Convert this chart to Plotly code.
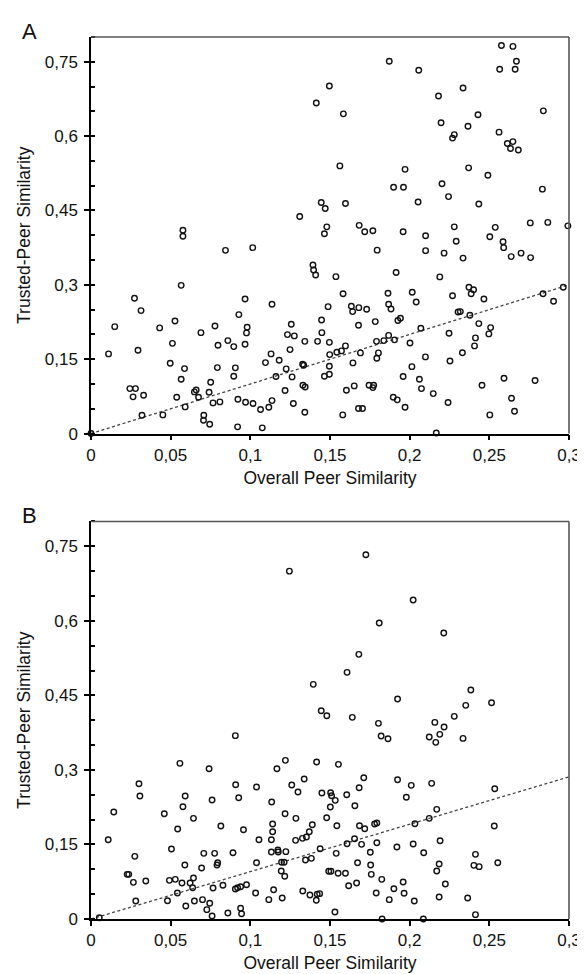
import plotly.graph_objects as go

# Panel A data (Overall Peer Similarity, Trusted-Peer Similarity)
a_x = [0.1496,0.1414,0.1445,0.147,0.131,0.148,0.0577,0.0577,0.1465,
       0.2576,0.2648,0.1872,0.267,0.2057,0.2565,0.2662,0.2335,0.2181,0.1584,0.2839,0.2429,0.2197,0.2366,0.2561,0.228,0.2269,0.2613,0.2648,0.2633,0.2682,0.1562,0.1971,0.237,0.2491,0.1899,0.1961,0.2203,0.2833,0.2244,0.1597,0.2053,0.2434,0.1683,0.228,0.2537,0.2757,0.2867,0.2993,0.1718,0.1769,0.1959,
       0.21,0.2292,0.2503,0.2586,0.259,0.1796,0.21,0.2216,0.2335,0.2637,0.2699,0.2759,0.1537,0.1915,0.2189,0.1582,0.1864,0.2016,0.2269,0.2372,0.2401,0.2386,0.2466,0.2837,0.2964,0.2903,0.1488,0.1634,0.1642,0.1681,0.173,0.1868,0.1883,0.1926,0.1942,0.2041,0.1784,0.1679,0.207,0.2304,0.2318,0.2378,0.2434,0.2508,0.2497,0.2413,0.2407,0.2247,0.2331,0.2253,0.1496,0.1597,0.1572,0.1543,0.1498,0.1496,0.1496,0.1691,0.1644,0.1792,0.1838,0.1868,0.1905,0.2002,0.1804,0.1794,0.2099,0.2014,0.1959,0.2061,0.2074,0.2148,0.2241,0.2454,0.2592,0.2787,0.2639,0.2658,0.2503,0.1745,0.1774,0.1769,0.1652,0.1603,0.1897,0.1922,0.1971,0.1679,0.1704,0.158,0.2167,
       0.0844,0.1015,0.0566,0.1393,0.1397,0.141,0.0273,0.0314,0.0149,0.011,0.0295,0.0431,0.0527,0.0511,0.0497,0.0566,0.0587,0.0538,0.0591,0.069,0.0778,0.0797,0.0859,0.0896,0.0928,0.0967,0.098,0.0976,0.0967,0.0793,0.0906,0.0896,0.0751,0.0649,0.066,0.0675,0.0741,0.0766,0.0809,0.0708,0.0706,0.0745,0.0244,0.0279,0.0264,0.033,0.032,0.0451,0.0922,0.097,0.1017,0.1064,0.092,0.1075,0.1116,0.1136,0.1095,0.113,0.1136,0.1161,0.1181,0.1225,0.1218,0.1233,0.1276,0.1257,0.1249,0.1262,0.127,0.1328,0.1335,0.1342,0.133,0.1344,0.1342,0.1422,0.1449,0.1447,0.1465,0.0]
a_y = [0.701,0.667,0.466,0.454,0.438,0.417,0.41,0.398,0.403,
       0.783,0.781,0.751,0.751,0.733,0.735,0.735,0.697,0.681,0.645,0.651,0.643,0.627,0.62,0.608,0.603,0.596,0.585,0.589,0.575,0.572,0.54,0.533,0.536,0.521,0.497,0.497,0.504,0.493,0.478,0.464,0.467,0.463,0.42,0.417,0.416,0.425,0.426,0.419,0.407,0.409,0.407,
       0.399,0.388,0.397,0.387,0.375,0.37,0.369,0.364,0.354,0.357,0.364,0.355,0.3165,0.325,0.316,0.282,0.283,0.285,0.278,0.295,0.29,0.282,0.2715,0.282,0.295,0.267,0.256,0.2567,0.246,0.254,0.2507,0.2607,0.2514,0.228,0.2325,0.2655,0.2258,0.2184,0.2124,0.2453,0.246,0.2386,0.2218,0.2137,0.201,0.193,0.1768,0.2023,0.163,0.1465,0.184,0.1768,0.1667,0.164,0.1593,0.1357,0.1196,0.1627,0.1425,0.186,0.1875,0.198,0.189,0.1828,0.1627,0.1519,0.1546,0.135,0.115,0.1095,0.0907,0.0806,0.0625,0.0974,0.1115,0.1069,0.0712,0.045,0.0376,0.0974,0.0974,0.0927,0.0961,0.0874,0.0733,0.068,0.0531,0.0504,0.0504,0.0376,0.001,
       0.3696,0.375,0.299,0.34,0.33,0.32,0.2728,0.248,0.2157,0.1607,0.168,0.2131,0.2272,0.182,0.1418,0.1095,0.131,0.0733,0.0538,0.2036,0.217,0.178,0.1875,0.1754,0.24,0.2715,0.2143,0.203,0.18,0.133,0.1325,0.1155,0.1035,0.084,0.088,0.0733,0.0833,0.0618,0.0638,0.0369,0.0268,0.0188,0.0907,0.0907,0.074,0.0773,0.0369,0.0376,0.0692,0.0631,0.0605,0.0484,0.0135,0.0115,0.053,0.0665,0.1431,0.1607,0.2607,0.115,0.1478,0.1304,0.0867,0.1996,0.197,0.2204,0.1694,0.1143,0.0605,0.1398,0.1378,0.186,0.0974,0.094,0.043,0.186,0.2036,0.2292,0.1155,0.0]

# Panel B data
b_x = [0.0906,0.1395,0.1445,0.148,
       0.2022,0.1809,0.2214,0.1681,0.1607,0.2384,0.1924,0.2352,0.2514,0.164,0.228,0.1804,0.2158,0.2216,0.1821,0.1864,0.2123,0.2189,0.2164,0.2335,
       0.1245,0.1725,
       0.0558,0.0741,0.122,0.1167,0.1416,0.0301,0.0307,0.0591,0.0577,0.076,0.0908,0.0927,0.1039,0.1134,0.126,0.1299,0.1338,0.1449,0.0143,0.046,0.0643,0.0544,0.0815,0.0957,0.114,0.114,0.1218,0.1286,0.1479,0.0108,0.1054,0.1132,0.1284,0.1327,0.1352,0.137,0.1389,0.0505,0.0708,0.0776,0.0891,0.1132,0.1175,0.1173,0.1223,0.0275,0.0795,0.0791,0.1039,0.1196,0.1212,0.1346,0.1383,0.1438,0.0589,0.0694,0.0227,0.0237,0.0266,0.0344,0.0492,0.0529,0.0571,0.0622,0.0643,0.0638,0.0542,0.0766,0.0828,0.0906,0.092,0.0939,0.0976,0.1033,0.1146,0.1194,0.1216,0.1329,0.1374,0.142,0.1435,0.1492,0.1506,
       0.1553,0.1712,0.1924,0.1683,0.201,0.2138,0.2534,0.1504,0.151,0.1605,0.1533,0.1502,0.1656,0.1979,0.217,0.1543,0.1685,0.1718,0.178,0.1794,0.2033,0.2123,0.2531,0.1654,0.1607,0.1698,0.1794,0.192,0.2022,0.2191,0.1539,0.1753,0.2088,0.2413,0.1673,0.1755,0.2185,0.2403,0.2436,0.2553,0.217,0.1551,0.1597,0.1759,0.1825,0.1667,0.1617,0.1959,0.1901,0.2224,0.179,0.1965,
       0.1116,0.12,0.1414,0.1531,0.1872,0.2029,0.2185,0.2364,0.2413,0.1827,0.2086,0.0052,0.0281,0.048,0.0595,0.0649,0.07,0.0745,0.0727,0.076,0.0859,0.0939,0.0945]
b_y = [0.369,0.4722,0.419,0.409,
       0.6419,0.5956,0.5755,0.5326,0.4964,0.4608,0.4427,0.43,0.4352,0.4058,0.4078,0.3937,0.3957,0.3863,0.3682,0.3628,0.3662,0.3716,0.3555,0.3635,
       0.70,0.733,
       0.3132,0.3024,0.3193,0.3024,0.3159,0.2722,0.2475,0.2475,0.226,0.2394,0.2702,0.244,0.2656,0.2354,0.2696,0.2555,0.2817,0.2535,0.2153,0.2119,0.2026,0.1811,0.1871,0.1797,0.1911,0.1757,0.2119,0.2026,0.2039,0.1596,0.1596,0.1596,0.1583,0.1623,0.165,0.1757,0.1898,0.1408,0.1321,0.1321,0.1334,0.1348,0.1348,0.1388,0.1355,0.1261,0.1133,0.1087,0.1133,0.1141,0.1141,0.1187,0.1221,0.1415,0.1087,0.1026,0.0899,0.0899,0.0738,0.0765,0.0778,0.0798,0.0724,0.0724,0.0825,0.063,0.0523,0.0624,0.0678,0.0604,0.063,0.065,0.069,0.0523,0.059,0.0966,0.0859,0.0563,0.0483,0.0497,0.051,0.096,0.096,
       0.3112,0.2843,0.2803,0.2642,0.269,0.273,0.2622,0.2541,0.2481,0.2501,0.2388,0.2254,0.228,0.2449,0.2207,0.1877,0.1877,0.1817,0.1911,0.1932,0.1918,0.2026,0.1871,0.1616,0.1515,0.1502,0.1535,0.1449,0.1509,0.1575,0.1321,0.1342,0.1334,0.1301,0.1133,0.1087,0.1107,0.108,0.1053,0.1133,0.0966,0.092,0.092,0.0899,0.0798,0.0724,0.067,0.0744,0.061,0.0704,0.0523,0.0517,
       0.0389,0.0423,0.0376,0.0141,0.0389,0.0362,0.0443,0.0423,0.0087,0.0,0.0,0.0026,0.0362,0.0368,0.0262,0.0362,0.0389,0.0316,0.0188,0.006,0.0121,0.0215,0.0107]

# Reference (dashed) lines
a_line_x = [0.0, 0.3]
a_line_y = [0.0, 0.3]
b_line_x = [0.0, 0.3]
b_line_y = [0.0, 0.286]

x_title = "Overall Peer Similarity"
y_title = "Trusted-Peer Similarity"
panel_labels = ["A", "B"]

FONT = "Liberation Sans, Arial, sans-serif"
marker = dict(symbol="circle-open", size=5.5, color="#111", line=dict(width=1.4, color="#111"))
dline = dict(color="#444", width=1.3, dash="3px,2.5px")

fig = go.Figure()
fig.add_trace(go.Scatter(x=a_line_x, y=a_line_y, mode="lines", line=dline, xaxis="x", yaxis="y", hoverinfo="skip"))
fig.add_trace(go.Scatter(x=a_x, y=a_y, mode="markers", marker=marker, xaxis="x", yaxis="y", cliponaxis=False))
fig.add_trace(go.Scatter(x=b_line_x, y=b_line_y, mode="lines", line=dline, xaxis="x2", yaxis="y2", hoverinfo="skip"))
fig.add_trace(go.Scatter(x=b_x, y=b_y, mode="markers", marker=marker, xaxis="x2", yaxis="y2", cliponaxis=False))

def xax(anchor):
    return dict(range=[0, 0.3], dtick=0.05, tick0=0, anchor=anchor, domain=[0, 1],
                showline=True, linecolor="black", linewidth=1.5, ticks="outside", ticklen=5,
                tickwidth=1.5, tickcolor="black", showgrid=False, zeroline=False,
                tickfont=dict(size=17, color="#111", family=FONT),
                title=dict(text=x_title, font=dict(size=17.5, color="#111", family=FONT), standoff=8))

def yax(anchor, domain):
    return dict(range=[0, 0.8], dtick=0.15, tick0=0, anchor=anchor, domain=domain,
                showline=True, linecolor="black", linewidth=1.5, ticks="outside", ticklen=5,
                tickwidth=1.5, tickcolor="black", showgrid=False, zeroline=False,
                ticklabelstandoff=3,
                minor=dict(dtick=0.05, tick0=0, ticks="inside", ticklen=4, tickwidth=1.5, tickcolor="black"),
                tickfont=dict(size=17, color="#111", family=FONT),
                title=dict(text=y_title, font=dict(size=17.5, color="#111", family=FONT), standoff=10))

shapes = []
for xr, yr in (("x domain", "y domain"), ("x2 domain", "y2 domain")):
    shapes.append(dict(type="line", xref=xr, yref=yr, x0=0, x1=1, y0=1, y1=1, line=dict(color="#555", width=1.6)))
    shapes.append(dict(type="line", xref=xr, yref=yr, x0=1, x1=1, y0=0, y1=1, line=dict(color="#555", width=1.6)))

fig.update_layout(
    width=585, height=974,
    margin=dict(l=82.5, r=16, t=29, b=62),
    paper_bgcolor="white", plot_bgcolor="white",
    separators=",.",
    showlegend=False,
    font=dict(family=FONT, color="#111"),
    xaxis=xax("y"), yaxis=yax("x", [0.5504, 1.0]),
    xaxis2=xax("y2"), yaxis2=yax("x2", [0.0, 0.4507]),
    shapes=shapes,
    annotations=[
        dict(text=panel_labels[0], xref="paper", yref="paper", x=-0.128, y=1.0062, showarrow=False,
             font=dict(size=22, color="#111", family=FONT), xanchor="center", yanchor="middle"),
        dict(text=panel_labels[1], xref="paper", yref="paper", x=-0.128, y=0.457, showarrow=False,
             font=dict(size=22, color="#111", family=FONT), xanchor="center", yanchor="middle"),
    ],
)

fig.write_html("out.html")
